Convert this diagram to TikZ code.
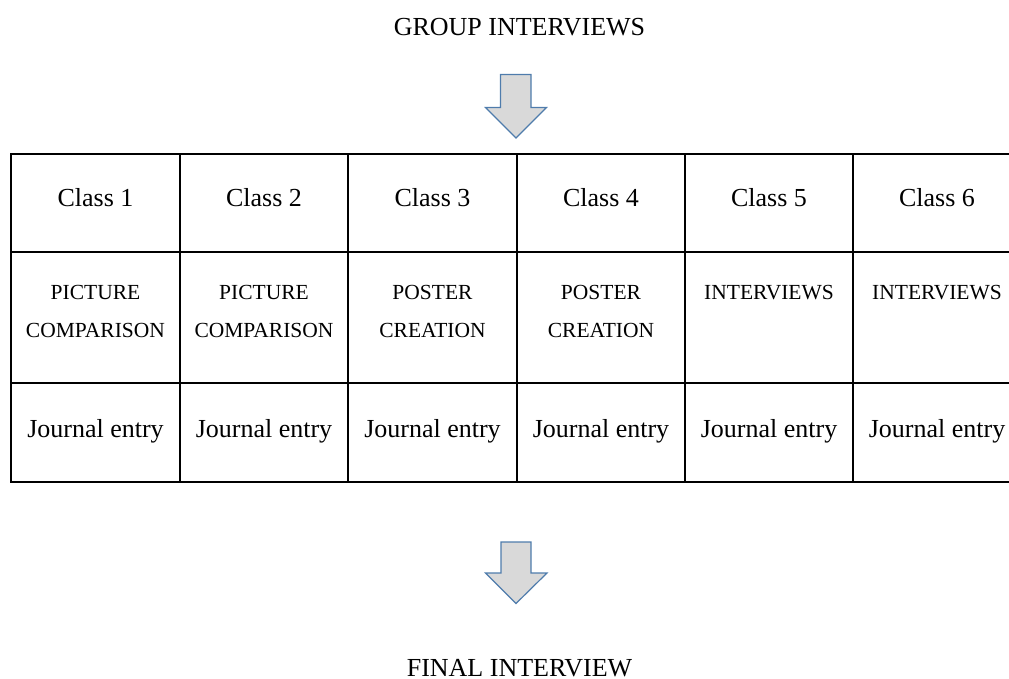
\documentclass[tikz,border=0pt]{standalone}
\usepackage{fontspec}
\setmainfont{Liberation Serif}
\definecolor{arrowfill}{HTML}{D9D9D9}
\definecolor{arrowline}{HTML}{4F7CAC}
\begin{document}
\begin{tikzpicture}[x=1pt,y=-1pt,
  title/.style={anchor=base,inner sep=0pt,font=\fontsize{26}{30}\selectfont},
  cell/.style={anchor=base,inner sep=0pt,font=\fontsize{26}{30}\selectfont},
  capcell/.style={anchor=base,inner sep=0pt,font=\fontsize{21.5}{26}\selectfont},
  grid/.style={line width=1.1pt,black},
  bigarrow/.style={fill=arrowfill,draw=arrowline,line width=1.2pt,line join=miter}]
\useasboundingbox (0,0) rectangle (1009,679);
% titles
\node[title] (top) at (519.5,36) {GROUP INTERVIEWS};
\node[title] (bot) at (519.5,676) {FINAL INTERVIEW};
% arrows
\draw[bigarrow] (500.5,74.5) -- (531,74.5) -- (531,107.5) -- (546.5,107.5) -- (516,138) -- (485.5,107.5) -- (500.5,107.5) -- cycle;
\draw[bigarrow] (501,542) -- (531,542) -- (531,573) -- (547,573) -- (516,603.5) -- (485.5,573) -- (501,573) -- cycle;
% table grid
\draw[grid] (1010,154) -- (11,154) -- (11,482) -- (1010,482);
\draw[grid] (11,252) -- (1010,252);
\draw[grid] (11,383) -- (1010,383);
\foreach \x in {180,348,517,685,853} \draw[grid] (\x,154) -- (\x,482);
% row 1
\node[cell] (a1) at (95.5,207) {Class 1};
\node[cell] (a2) at (264,207) {Class 2};
\node[cell] (a3) at (432.5,207) {Class 3};
\node[cell] (a4) at (601,207) {Class 4};
\node[cell] (a5) at (769,207) {Class 5};
\node[cell] (a6) at (937,207) {Class 6};
% row 2
\node[capcell] (b1a) at (95.5,299) {PICTURE};
\node[capcell] (b1b) at (95.5,337) {COMPARISON};
\node[capcell] (b2a) at (264,299) {PICTURE};
\node[capcell] (b2b) at (264,337) {COMPARISON};
\node[capcell] (b3a) at (432.5,299) {POSTER};
\node[capcell] (b3b) at (432.5,337) {CREATION};
\node[capcell] (b4a) at (601,299) {POSTER};
\node[capcell] (b4b) at (601,337) {CREATION};
\node[capcell] (b5) at (769,299) {INTERVIEWS};
\node[capcell] (b6) at (937,299) {INTERVIEWS};
% row 3
\node[cell] (c1) at (95.5,437) {Journal entry};
\node[cell] (c2) at (264,437) {Journal entry};
\node[cell] (c3) at (432.5,437) {Journal entry};
\node[cell] (c4) at (601,437) {Journal entry};
\node[cell] (c5) at (769,437) {Journal entry};
\node[cell] (c6) at (937,437) {Journal entry};
\end{tikzpicture}
\end{document}
